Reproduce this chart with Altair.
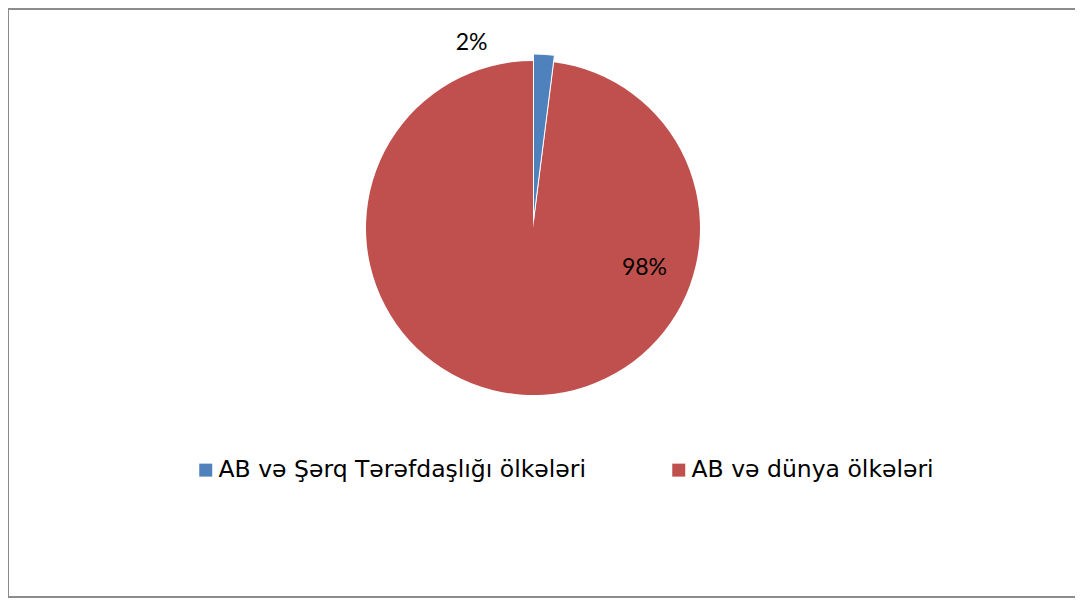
import altair as alt
import pandas as pd

categories = ["AB və Şərq Tərəfdaşlığı ölkələri", "AB və dünya ölkələri"]
values = [2, 98]
labels = ["2%", "98%"]
order = [0, 1]
colors = ["#4F81BD", "#C0504D"]

df = pd.DataFrame({"cat": categories, "value": values, "label": labels, "idx": order})

W, H = 1050, 440
R = 167

theta_scale = alt.Scale(domain=[0, 100], range=[0, 6.283185307179586])

base = alt.Chart(df).transform_window(
    cum="sum(value)", sort=[alt.SortField("idx")], frame=[None, 0]
).transform_calculate(
    start="datum.cum - datum.value", mid="datum.cum - datum.value / 2"
)

color = alt.Color(
    "cat:N",
    scale=alt.Scale(domain=categories, range=colors),
    sort=categories,
    legend=alt.Legend(
        orient="none", legendX=186, legendY=450, direction="horizontal",
        title=None, symbolType="square", symbolSize=169, symbolStrokeWidth=0,
        symbolOpacity=1, labelFont="DejaVu Sans", labelFontSize=23.5,
        labelColor="black", labelOffset=1, columnPadding=81, labelLimit=600,
        padding=0,
    ),
)

enc = dict(
    theta=alt.Theta("start:Q", scale=theta_scale, stack=None),
    theta2="cum:Q",
    color=color,
)

red = base.transform_filter("datum.idx == 1").mark_arc(outerRadius=R).encode(**enc)
blue = base.transform_filter("datum.idx == 0").mark_arc(
    outerRadius=R, xOffset=0.5, yOffset=-7, stroke="white", strokeWidth=1
).encode(**enc)

lab_small = base.transform_filter("datum.idx == 0").mark_text(
    radius=185, dx=-73, font="Lato", fontSize=23, color="black", baseline="middle", align="center"
).encode(theta=alt.Theta("mid:Q", scale=theta_scale, stack=None), text="label:N")
lab_big = base.transform_filter("datum.idx == 1").mark_text(
    radius=40, dx=114, font="Lato", fontSize=23, color="black", baseline="middle", align="center"
).encode(theta=alt.Theta("mid:Q", scale=theta_scale, stack=None), text="label:N")

frame_df = pd.DataFrame({"k": [0]})
border = "#8c8c8c"
left = alt.Chart(frame_df).mark_rule(color=border, strokeWidth=2).encode(
    x=alt.value(0), y=alt.value(0), y2=alt.value(590))
top = alt.Chart(frame_df).mark_rule(color=border, strokeWidth=2).encode(
    x=alt.value(0), x2=alt.value(1067), y=alt.value(1))
bottom = alt.Chart(frame_df).mark_rule(color=border, strokeWidth=2).encode(
    x=alt.value(0), x2=alt.value(1067), y=alt.value(589))

chart = alt.layer(red, blue, lab_small, lab_big, left, top, bottom).properties(
    width=W, height=H,
    autosize=alt.AutoSizeParams(type="none"),
    padding={"left": 0, "top": 0, "right": 17, "bottom": 150},
    background="white",
).configure_view(stroke=None)

chart.save("out.html", embed_options={"renderer": "svg", "actions": False})
